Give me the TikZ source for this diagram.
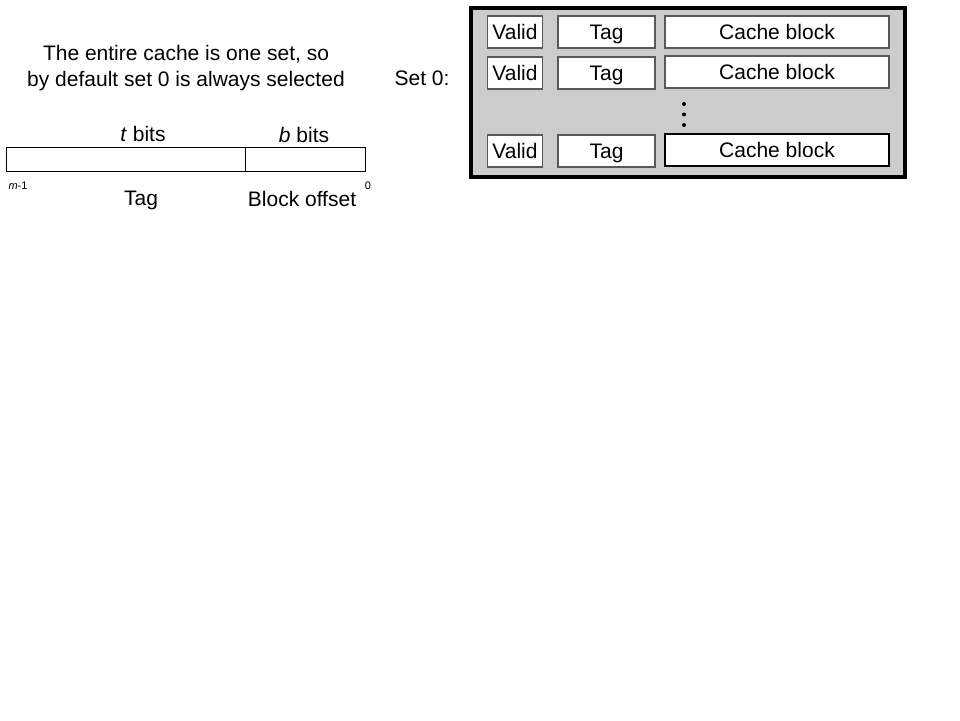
\documentclass[tikz,border=0pt]{standalone}
\usepackage{fontspec}
\setmainfont{Liberation Sans}
\begin{document}
\begin{tikzpicture}[x=1pt,y=-1pt,
  lbl/.style={font=\fontsize{21}{24}\selectfont, inner sep=0pt, text height=15pt, text depth=0pt},
  small/.style={font=\fontsize{11}{13}\selectfont, inner sep=0pt, text height=8pt, text depth=0pt},
  cell/.style={draw=black!65, line width=1.2pt, fill=white, inner sep=0pt, font=\fontsize{21}{24}\selectfont, text height=15pt, text depth=0pt},
]
\useasboundingbox (0,0) rectangle (960,720);
% left explanatory text
\node[lbl] (l1) at (186,53) {The entire cache is one set, so};
\node[lbl] (l2) at (186,79) {by default set 0 is always selected};
% address
\node[draw, line width=0.8pt, minimum width=239pt, minimum height=24pt, inner sep=0pt] (tagf) at (125.5,159) {};
\node[draw, line width=0.8pt, minimum width=120pt, minimum height=24pt, inner sep=0pt] (offf) at (305,159) {};
\node[lbl] (tb) at (143,134) {\textit{t} bits};
\node[lbl] (bb) at (304,135) {\textit{b} bits};
\node[small] (m1) at (18,185) {\textit{m}-1};
\node[small] (z) at (368,185) {0};
\node[lbl] (tagl) at (141,198) {Tag};
\node[lbl] (offl) at (302,199) {Block offset};
% set label
\node[lbl] (set) at (422,78) {Set 0:};
% set box
\node[draw, line width=4pt, fill=black!20, minimum width=434pt, minimum height=169pt, inner sep=0pt] (setbox) at (688,92.5) {};
% rows
\foreach \r/\y in {1/32, 2/73, 3/151}{
  \node[cell, minimum width=55pt, minimum height=32pt] (v\r) at (515,\y) {Valid};
  \node[cell, minimum width=97pt, minimum height=32pt] (t\r) at (606.5,\y) {Tag};
}
\node[cell, minimum width=224pt, minimum height=32pt] (c1) at (777,32) {Cache block};
\node[cell, minimum width=224pt, minimum height=32pt] (c2) at (777,72) {Cache block};
\node[cell, draw=black, minimum width=224pt, minimum height=32pt] (c3) at (777,150) {Cache block};
% dots
\foreach \d/\y in {1/104, 2/114.5, 3/125}{
  \fill (684,\y) circle (2pt) coordinate (dot\d);
}
\end{tikzpicture}
\end{document}
